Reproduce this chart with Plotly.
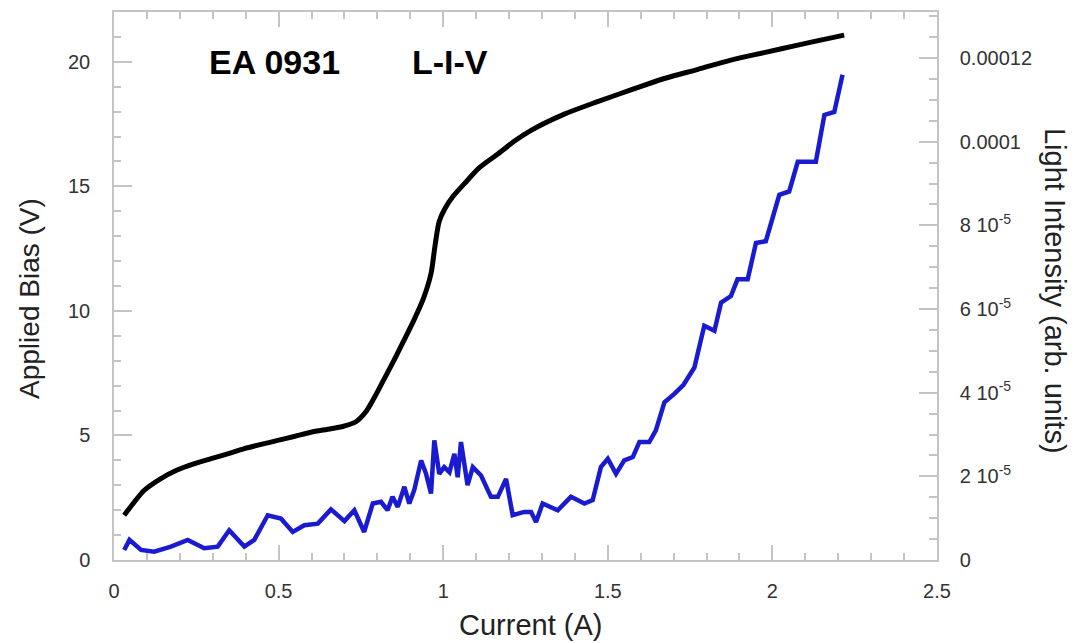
import plotly.graph_objects as go

# Applied bias (black) vs current
current_v = [0.031, 0.06, 0.092, 0.14, 0.19, 0.24, 0.295, 0.35, 0.396, 0.45, 0.497, 0.55, 0.598, 0.659,
             0.70, 0.735, 0.765, 0.79, 0.82, 0.85, 0.88, 0.91, 0.94, 0.963, 0.975, 0.988, 1.005, 1.03,
             1.064, 1.11, 1.166, 1.22, 1.267, 1.368, 1.469, 1.57, 1.672, 1.774, 1.874, 1.975, 2.077, 2.15, 2.218]
bias = [1.8, 2.3, 2.8, 3.25, 3.6, 3.85, 4.07, 4.28, 4.47, 4.65, 4.8, 4.97, 5.13, 5.27,
        5.38, 5.55, 5.95, 6.5, 7.25, 8.0, 8.8, 9.6, 10.5, 11.5, 12.6, 13.6, 14.1, 14.6,
        15.1, 15.75, 16.3, 16.85, 17.25, 17.9, 18.4, 18.87, 19.33, 19.7, 20.07, 20.37, 20.67, 20.88, 21.07]

# Light intensity (blue) vs current
current_l = [0.031, 0.047, 0.082, 0.122, 0.173, 0.224, 0.274, 0.315, 0.35, 0.396, 0.426, 0.467, 0.507,
             0.543, 0.578, 0.619, 0.659, 0.70, 0.73, 0.76, 0.786, 0.811, 0.831, 0.846, 0.862, 0.882,
             0.897, 0.912, 0.933, 0.948, 0.963, 0.973, 0.988, 1.003, 1.019, 1.034, 1.044, 1.054, 1.074,
             1.09, 1.115, 1.145, 1.166, 1.191, 1.211, 1.246, 1.267, 1.282, 1.302, 1.348, 1.388, 1.429,
             1.454, 1.479, 1.50, 1.525, 1.55, 1.576, 1.596, 1.626, 1.646, 1.672, 1.702, 1.730, 1.763,
             1.793, 1.824, 1.844, 1.874, 1.894, 1.925, 1.95, 1.98, 2.021, 2.051, 2.077, 2.132, 2.158,
             2.188, 2.213]
light = [2.4e-6, 4.8e-6, 2.4e-6, 2.0e-6, 3.2e-6, 4.8e-6, 2.8e-6, 3.2e-6, 7.1e-6, 3.2e-6, 4.8e-6, 1.07e-5, 9.9e-6,
         6.7e-6, 8.3e-6, 8.7e-6, 1.21e-5, 9.3e-6, 1.19e-5, 6.7e-6, 1.35e-5, 1.39e-5, 1.19e-5, 1.51e-5, 1.27e-5, 1.75e-5,
         1.35e-5, 1.67e-5, 2.38e-5, 2.06e-5, 1.59e-5, 2.86e-5, 2.06e-5, 2.22e-5, 2.1e-5, 2.54e-5, 1.98e-5, 2.82e-5, 1.79e-5,
         2.22e-5, 2.02e-5, 1.51e-5, 1.51e-5, 1.94e-5, 1.07e-5, 1.15e-5, 1.15e-5, 9.1e-6, 1.35e-5, 1.19e-5, 1.51e-5, 1.35e-5,
         1.43e-5, 2.22e-5, 2.42e-5, 2.06e-5, 2.38e-5, 2.46e-5, 2.82e-5, 2.82e-5, 3.1e-5, 3.77e-5, 3.97e-5, 4.19e-5, 4.6e-5,
         5.6e-5, 5.48e-5, 6.15e-5, 6.31e-5, 6.71e-5, 6.71e-5, 7.58e-5, 7.62e-5, 8.73e-5, 8.81e-5, 9.52e-5, 9.52e-5, 1.064e-4,
         1.071e-4, 1.16e-4]

right_tickvals = [0, 2e-5, 4e-5, 6e-5, 8e-5, 1e-4, 1.2e-4]
right_ticktext = ["0", "2 10<sup>-5</sup>", "4 10<sup>-5</sup>", "6 10<sup>-5</sup>",
                  "8 10<sup>-5</sup>", "0.0001", "0.00012"]

FONT = "Liberation Sans, Arial, Helvetica, sans-serif"
AX = "#c4c4c4"
TICKFONT = dict(family=FONT, size=20, color="#333333")

fig = go.Figure()
fig.add_trace(go.Scatter(x=current_v, y=bias, mode="lines",
                         line=dict(color="black", width=5, shape="spline", smoothing=0.8),
                         showlegend=False, hoverinfo="skip"))
fig.add_trace(go.Scatter(x=current_l, y=light, mode="lines", line=dict(color="#1a1ad0", width=4.5),
                         yaxis="y2", showlegend=False, hoverinfo="skip"))

fig.update_layout(
    width=1081, height=643,
    margin=dict(l=114, r=144, t=10, b=83),
    plot_bgcolor="white", paper_bgcolor="white",
    xaxis=dict(range=[0, 2.5], tickvals=[0, 0.5, 1, 1.5, 2, 2.5], ticktext=["0", "0.5", "1", "1.5", "2", "2.5"],
               ticks="inside", ticklen=15, tickwidth=1.5, tickcolor=AX,
               minor=dict(dtick=0.1, ticks="inside", ticklen=7, tickcolor=AX, tickwidth=1.5),
               showline=True, linecolor=AX, linewidth=1.5, mirror="ticks", showgrid=False, zeroline=False,
               tickfont=TICKFONT, ticklabelstandoff=12),
    yaxis=dict(range=[0, 22], tickvals=[0, 5, 10, 15, 20], ticks="inside", ticklen=18, tickwidth=1.5, tickcolor=AX,
               minor=dict(dtick=1, ticks="inside", ticklen=7, tickcolor=AX, tickwidth=1.5),
               showline=True, linecolor=AX, linewidth=1.5, showgrid=False, zeroline=False,
               tickfont=TICKFONT, ticklabelstandoff=18),
    yaxis2=dict(range=[0, 1.31e-4], overlaying="y", side="right", tickvals=right_tickvals, ticktext=right_ticktext,
                ticks="inside", ticklen=18, tickwidth=1.5, tickcolor=AX,
                minor=dict(dtick=0.5e-5, ticks="inside", ticklen=8, tickcolor=AX, tickwidth=1.5),
                showline=True, linecolor=AX, linewidth=1.5, showgrid=False, zeroline=False,
                tickfont=TICKFONT, ticklabelstandoff=17),
    annotations=[
        dict(text="Applied Bias (V)", x=30, y=298, showarrow=False, textangle=-90,
             font=dict(family=FONT, size=28, color="#222")),
        dict(text="Current (A)", x=530, y=625, showarrow=False, font=dict(family=FONT, size=29, color="#222")),
        dict(text="Light Intensity (arb. units)", x=1055, y=290, showarrow=False, textangle=90,
             font=dict(family=FONT, size=29, color="#222")),
        dict(text="<b>EA 0931</b>", x=274, y=60, showarrow=False, font=dict(family=FONT, size=34, color="black")),
        dict(text="<b>L-I-V</b>", x=450, y=60, showarrow=False, font=dict(family=FONT, size=34, color="black")),
    ],
)

# convert pixel-positioned annotations to paper coordinates
W, H = 1081, 643
l, r, t, b = 114, 144, 10, 83
pw, ph = W - l - r, H - t - b
new_ann = []
for a in fig.layout.annotations:
    a.xref = "paper"; a.yref = "paper"
    a.x = (a.x - l) / pw
    a.y = (H - b - a.y) / ph
    a.xanchor = "center"; a.yanchor = "middle"
    new_ann.append(a)
fig.layout.annotations = new_ann

fig.write_html("out.html")
